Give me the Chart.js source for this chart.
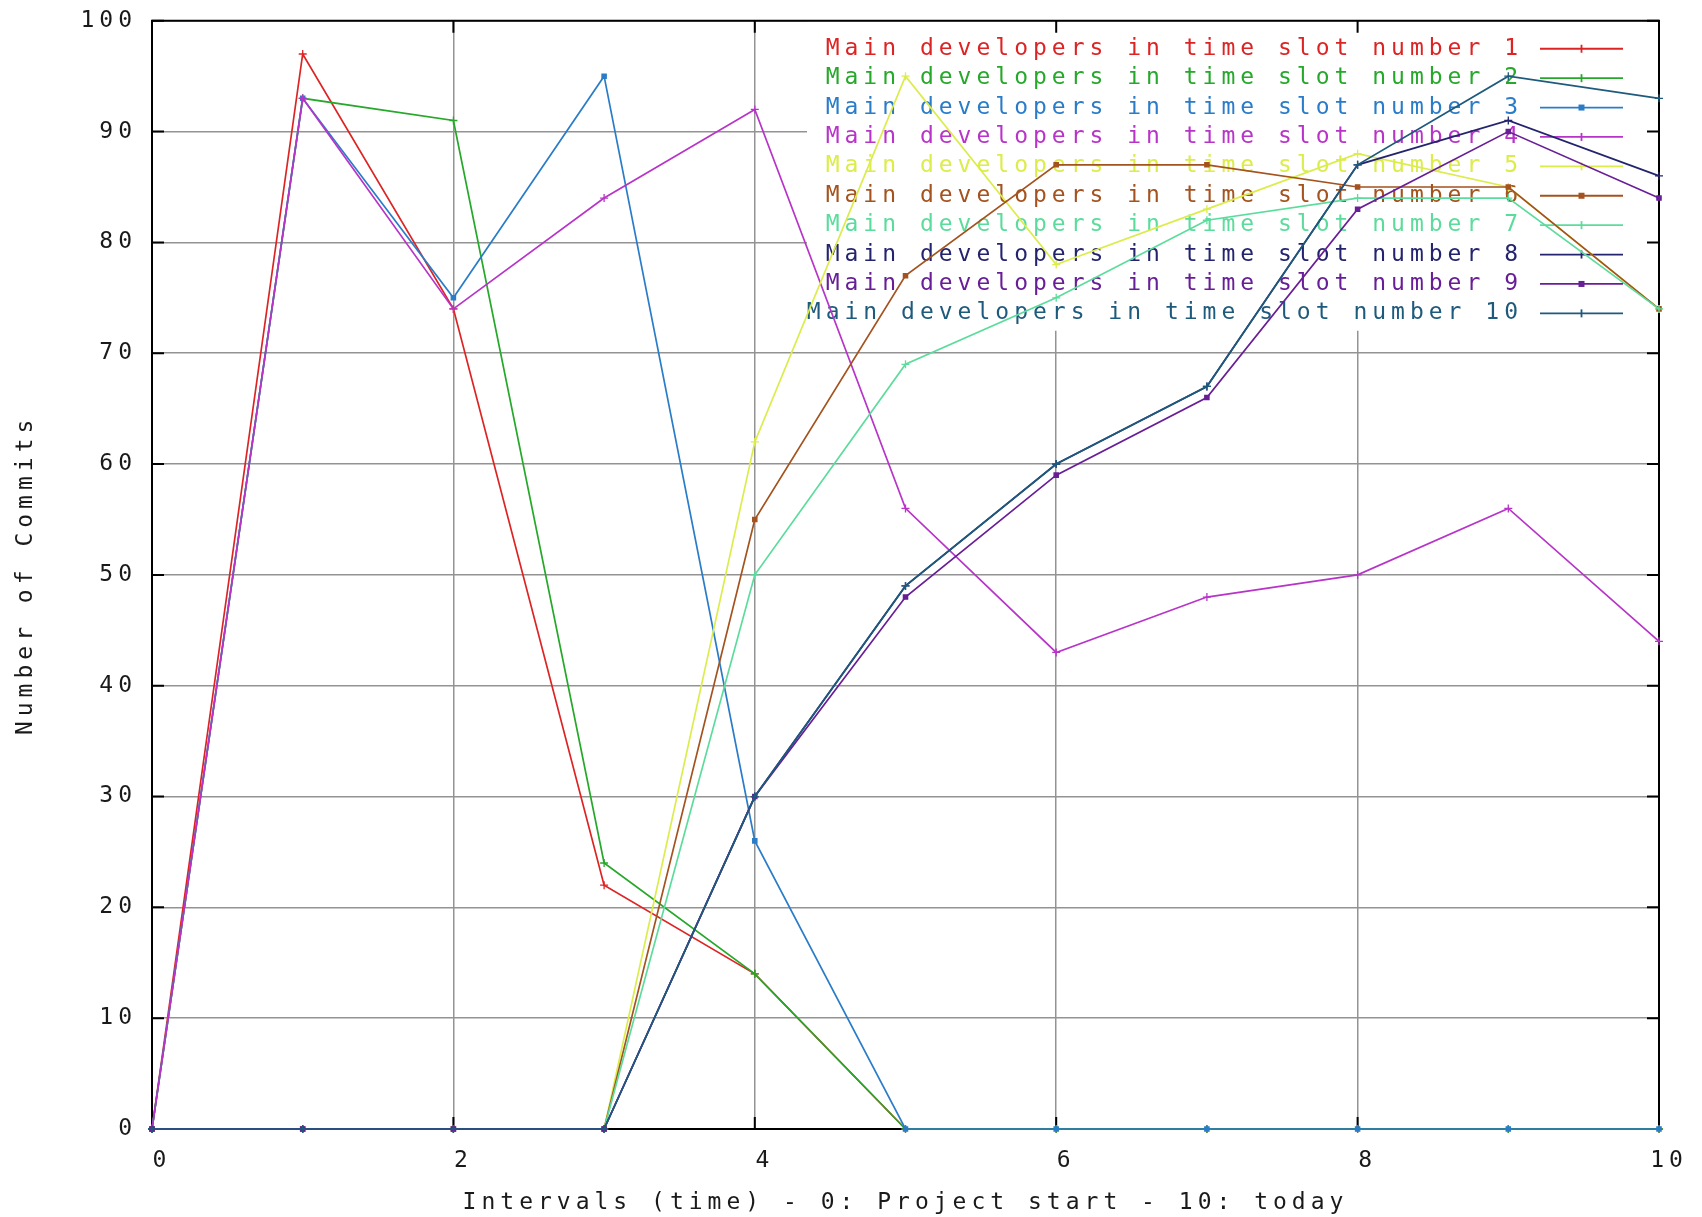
<!DOCTYPE html>
<html>
<head>
<meta charset="utf-8">
<script src="https://cdn.jsdelivr.net/npm/chart.js@4.4.0/dist/chart.umd.min.js"></script>
<style>
  html, body { margin: 0; padding: 0; background: #ffffff; }
  #wrap { width: 1702px; height: 1217px; }
</style>
</head>
<body>
<div id="wrap"><canvas id="c" width="1702" height="1217"></canvas></div>
<script>
// ---------- data ----------
const intervals = [0, 1, 2, 3, 4, 5, 6, 7, 8, 9, 10];
const seriesNames = [
  'Main developers in time slot number 1',
  'Main developers in time slot number 2',
  'Main developers in time slot number 3',
  'Main developers in time slot number 4',
  'Main developers in time slot number 5',
  'Main developers in time slot number 6',
  'Main developers in time slot number 7',
  'Main developers in time slot number 8',
  'Main developers in time slot number 9',
  'Main developers in time slot number 10'
];
const slot1  = [0, 97, 74, 22, 14,  0,  0,  0,  0,  0,  0];
const slot2  = [0, 93, 91, 24, 14,  0,  0,  0,  0,  0,  0];
const slot3  = [0, 93, 75, 95, 26,  0,  0,  0,  0,  0,  0];
const slot4  = [0, 93, 74, 84, 92, 56, 43, 48, 50, 56, 44];
const slot5  = [0,  0,  0,  0, 62, 95, 78, 83, 88, 85, 74];
const slot6  = [0,  0,  0,  0, 55, 77, 87, 87, 85, 85, 74];
const slot7  = [0,  0,  0,  0, 50, 69, 75, 82, 84, 84, 74];
const slot8  = [0,  0,  0,  0, 30, 49, 60, 67, 87, 91, 86];
const slot9  = [0,  0,  0,  0, 30, 48, 59, 66, 83, 90, 84];
const slot10 = [0,  0,  0,  0, 30, 49, 60, 67, 87, 95, 93];
const allSlots = [slot1, slot2, slot3, slot4, slot5, slot6, slot7, slot8, slot9, slot10];

const xTickValues = [0, 2, 4, 6, 8, 10];
const yTickValues = [0, 10, 20, 30, 40, 50, 60, 70, 80, 90, 100];
const xTitle = 'Intervals (time) - 0: Project start - 10: today';
const yTitle = 'Number of Commits';

// ---------- styles ----------
const colors = ['#dd2424', '#26a82a', '#2a7cc8', '#b834c8', '#dcec4a',
                '#a4521e', '#5cdc9c', '#24246e', '#681e96', '#1e5a7c'];
const markers = ['cross', 'cross', 'rect', 'cross', 'cross',
                 'rect', 'cross', 'cross', 'rect', 'cross'];
const FAMILY = '"DejaVu Sans Mono", "Liberation Mono", monospace';
const FONT = { family: FAMILY, size: 23 };
const TICKFONT = { family: FAMILY, size: 23, lineHeight: 0.5 };
const LS = '5px';
const TEXT = '#1a1a1a';
const GRID = '#939393';

const datasets = allSlots.map((arr, i) => ({
  label: seriesNames[i],
  data: intervals.map((x, j) => ({ x: x, y: arr[j] })),
  borderColor: colors[i],
  backgroundColor: colors[i],
  borderWidth: 1.7,
  pointStyle: markers[i],
  pointRadius: markers[i] === 'rect' ? 3 : 4,
  pointBorderWidth: 1.3,
  pointBorderColor: colors[i],
  pointBackgroundColor: colors[i],
  tension: 0,
  fill: false,
  clip: false,
  order: allSlots.length - i
}));

const spacingPlugin = {
  id: 'spacing',
  beforeUpdate(chart) { chart.ctx.letterSpacing = LS; },
  beforeLayout(chart) { chart.ctx.letterSpacing = LS; },
  beforeDraw(chart) {
    chart.ctx.letterSpacing = LS;
    const c = chart.ctx;
    c.save();
    c.fillStyle = '#ffffff';
    c.fillRect(0, 0, chart.width, chart.height);
    c.restore();
  }
};

const framePlugin = {
  id: 'frame',
  beforeDatasetsDraw(chart) {
    const { ctx, chartArea: a, scales } = chart;
    const xs = scales.x, ys = scales.y;
    ctx.save();
    ctx.letterSpacing = LS;
    // key backdrop (hides grid behind key)
    const keyLeft = a.left + 655;
    const keyBottom = a.top + 309;
    ctx.fillStyle = '#ffffff';
    ctx.fillRect(keyLeft, a.top + 1, a.right - keyLeft - 1, keyBottom - a.top);

    // frame
    ctx.strokeStyle = '#000000';
    ctx.lineWidth = 2;
    ctx.strokeRect(a.left, a.top, a.right - a.left, a.bottom - a.top);

    // inward ticks on all sides
    const tl = 12;
    ctx.beginPath();
    yTickValues.forEach(v => {
      const py = ys.getPixelForValue(v);
      ctx.moveTo(a.left, py); ctx.lineTo(a.left + tl, py);
      ctx.moveTo(a.right, py); ctx.lineTo(a.right - tl, py);
    });
    xTickValues.forEach(v => {
      const px = xs.getPixelForValue(v);
      ctx.moveTo(px, a.bottom); ctx.lineTo(px, a.bottom - tl);
      ctx.moveTo(px, a.top); ctx.lineTo(px, a.top + tl);
    });
    ctx.stroke();

    // key
    ctx.font = `${FONT.size}px ${FONT.family}`;
    ctx.textAlign = 'right';
    ctx.textBaseline = 'middle';
    const textRight = a.right - 136;
    const s1 = a.right - 119, s2 = a.right - 36;
    chart.data.datasets.forEach((ds, i) => {
      const ry = a.top + 28 + i * 29.4;
      ctx.fillStyle = ds.borderColor;
      ctx.fillText(ds.label, textRight, ry);
      ctx.strokeStyle = ds.borderColor;
      ctx.lineWidth = 1.8;
      ctx.beginPath();
      ctx.moveTo(s1, ry); ctx.lineTo(s2, ry);
      ctx.stroke();
      const mx = (s1 + s2) / 2;
      if (ds.pointStyle === 'rect') {
        ctx.fillStyle = ds.borderColor;
        ctx.fillRect(mx - 3, ry - 3, 6, 6);
      } else {
        ctx.beginPath();
        ctx.moveTo(mx, ry - 4); ctx.lineTo(mx, ry + 4);
        ctx.stroke();
      }
    });
    ctx.restore();
  }
};

new Chart(document.getElementById('c'), {
  type: 'line',
  data: { datasets: datasets },
  plugins: [spacingPlugin, framePlugin],
  options: {
    responsive: false,
    animation: false,
    devicePixelRatio: 1,
    layout: { padding: { left: 0, right: 43, top: 0, bottom: 0 } },
    plugins: { legend: { display: false }, tooltip: { enabled: false } },
    scales: {
      x: {
        type: 'linear',
        min: 0, max: 10,
        afterFit(s) { s.height = 88; },
        afterBuildTicks(s) { s.ticks = xTickValues.map(v => ({ value: v })); },
        ticks: {
          font: FONT, color: TEXT, padding: 18, labelOffset: 10,
          maxRotation: 0, autoSkip: false,
          callback: v => String(v)
        },
        grid: { color: GRID, lineWidth: 1.5, drawTicks: false },
        border: { display: false },
        title: { display: true, text: xTitle, font: FONT, color: TEXT,
                 padding: { top: 0, bottom: 0 } }
      },
      y: {
        type: 'linear',
        min: 0, max: 100,
        afterFit(s) { s.width = 152; },
        afterBuildTicks(s) { s.ticks = yTickValues.map(v => ({ value: v })); },
        ticks: { font: TICKFONT, color: TEXT, padding: 15, callback: v => String(v) },
        grid: { color: GRID, lineWidth: 1.5, drawTicks: false },
        border: { display: false },
        title: { display: true, text: yTitle, font: FONT, color: TEXT,
                 padding: { top: 12, bottom: 0 } }
      }
    }
  }
});
</script>
</body>
</html>
